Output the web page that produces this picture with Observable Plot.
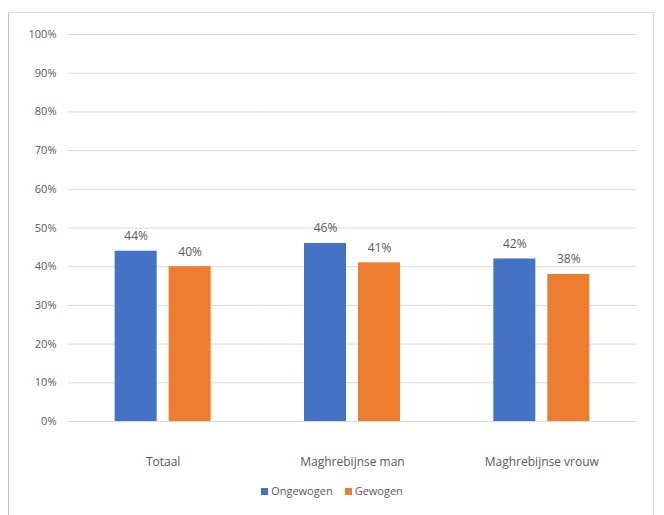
<!DOCTYPE html>
<html>
<head>
<meta charset="utf-8">
<script src="https://cdn.jsdelivr.net/npm/d3@7"></script>
<script src="https://cdn.jsdelivr.net/npm/@observablehq/plot@0.6"></script>
<style>
  html, body { margin: 0; padding: 0; background: #fff; }
  body { width: 664px; height: 515px; position: relative; overflow: hidden; font-family: "Open Sans", sans-serif; }
  #frame { position: absolute; left: 8px; top: 12px; width: 646px; height: 520px; border: 1px solid #d9d9d9; border-left-color: #bfbfbf; box-sizing: border-box; }
  #chart { position: absolute; left: 0; top: 0; }
  #legend { position: absolute; left: 0; top: 483px; width: 664px; text-align: center; font-size: 11px; color: #595959; }
  #legend span.item { display: inline-block; margin: 0 6px; }
  #legend span.sw { display: inline-block; width: 7px; height: 7px; margin-right: 3px; vertical-align: 0px; }
</style>
</head>
<body>
<div id="frame"></div>
<div id="chart"></div>
<div id="legend"></div>
<script>
const categories = ["Totaal", "Maghrebijnse man", "Maghrebijnse vrouw"];
const seriesNames = ["Ongewogen", "Gewogen"];
const ongewogen = [44, 46, 42];
const gewogen = [40, 41, 38];
const yTicks = [0, 10, 20, 30, 40, 50, 60, 70, 80, 90, 100];
const colors = ["#4472C4", "#ED7D31"];

const data = [];
categories.forEach((c, i) => {
  data.push({category: c, series: seriesNames[0], value: ongewogen[i]});
  data.push({category: c, series: seriesNames[1], value: gewogen[i]});
});

const chart = Plot.plot({
  width: 664,
  height: 480,
  marginTop: 34,
  marginBottom: 59,
  marginLeft: 68,
  marginRight: 28,
  style: {fontFamily: "Open Sans, sans-serif", fontSize: "11px", color: "#595959", background: "transparent"},
  fx: {domain: categories, padding: 0, round: false, label: null},
  x: {domain: seriesNames, paddingInner: 0.2222, paddingOuter: 0.864, round: false, axis: null},
  y: {domain: [0, 100], label: null},
  color: {domain: seriesNames, range: colors},
  marks: [
    Plot.gridY(yTicks, {stroke: "#d9d9d9", strokeOpacity: 1, strokeWidth: 1}),
    Plot.axisY(yTicks, {tickSize: 0, tickPadding: 12, tickFormat: d => d + "%", fill: "#595959", label: null}),
    Plot.axisFx({anchor: "bottom", tickSize: 0, tickPadding: 36, fill: "#595959", fontSize: 12, label: null}),
    Plot.barY(data, {fx: "category", x: "series", y: "value", fill: "series"}),
    Plot.text(data, {fx: "category", x: "series", y: "value", text: d => d.value + "%", dy: -15, fill: "#595959", fontSize: 12})
  ]
});
document.getElementById("chart").appendChild(chart);

const legend = document.getElementById("legend");
seriesNames.forEach((s, i) => {
  const item = document.createElement("span");
  item.className = "item";
  const sw = document.createElement("span");
  sw.className = "sw";
  sw.style.background = colors[i];
  item.appendChild(sw);
  item.appendChild(document.createTextNode(s));
  legend.appendChild(item);
});
</script>
</body>
</html>
